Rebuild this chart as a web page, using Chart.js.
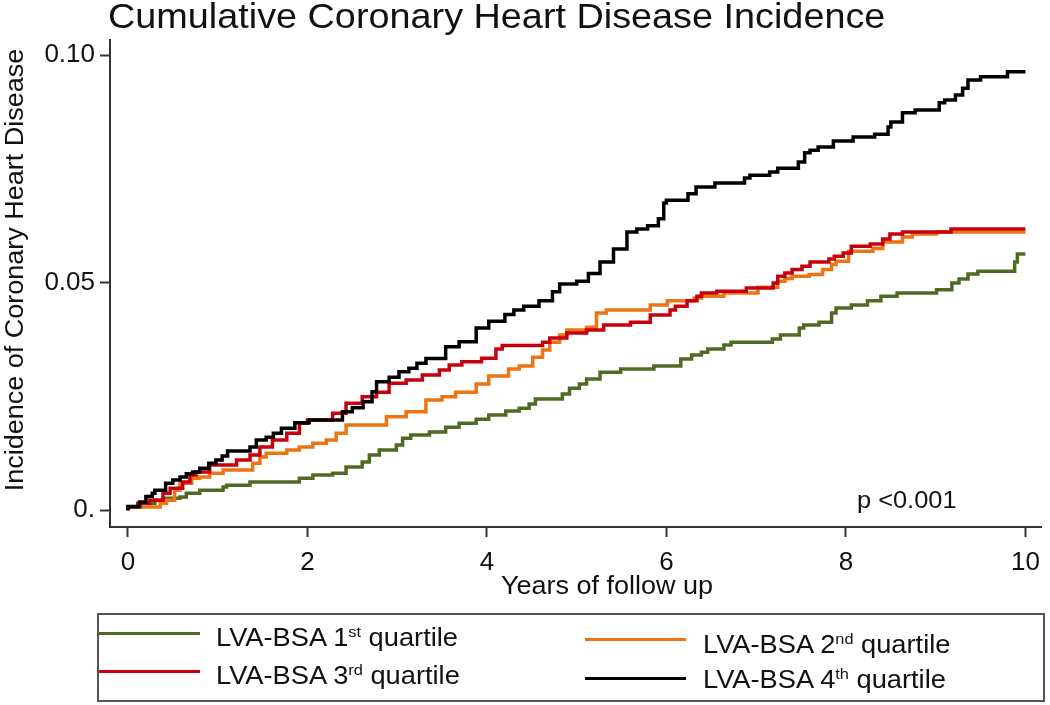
<!DOCTYPE html>
<html>
<head>
<meta charset="utf-8">
<script src="https://cdn.jsdelivr.net/npm/chart.js@4.4.0/dist/chart.umd.min.js"></script>
<style>
  body { margin: 0; background: #fff; }
  #wrap { position: relative; width: 1050px; height: 705px; font-family: 'Liberation Sans', Arial, sans-serif; color: #111; }
  #legend { position: absolute; left: 97px; top: 613px; width: 948px; height: 89px; box-sizing: border-box; border: 2px solid #555; }
  .key-line { position: absolute; width: 101px; height: 3px; }
  .key-text { position: absolute; font-size: 25px; white-space: nowrap; transform-origin: left center; transform: translateY(-50%) scaleX(1.09); }
  .key-text sup { font-size: 15px; vertical-align: 9px; line-height: 0; }
</style>
</head>
<body>
<div id="wrap">
  <canvas id="chart" width="1050" height="705"></canvas>
  <div id="legend"></div>
</div>
<script>
// ─── DATA ────────────────────────────────────────────────────
const xTicks = [0, 2, 4, 6, 8, 10];
const yTicks = [0, 0.05, 0.10];
const yTickLabels = ['0.', '0.05', '0.10'];

const seriesNames = ['LVA-BSA 1st quartile', 'LVA-BSA 2nd quartile', 'LVA-BSA 3rd quartile', 'LVA-BSA 4th quartile'];
const ordinals = ['1', '2', '3', '4'];
const ordinalSuffix = ['st', 'nd', 'rd', 'th'];
const colors = ['#4f6b23', '#ec7412', '#c8000b', '#000000'];

// 1st quartile (green)
const q1Years = [0, 0.15, 0.3, 0.42, 0.58, 0.65, 0.8, 1.06, 1.1, 1.36, 1.91, 2.06, 2.28, 2.43, 2.61, 2.69, 2.8, 2.99, 3.06, 3.15,
    3.36, 3.54, 3.69, 3.88, 4.02, 4.21, 4.36, 4.47, 4.54, 4.84, 4.92, 5.03, 5.11, 5.26, 5.49, 5.86, 6.16, 6.28, 6.39, 6.46,
    6.64, 6.72, 7.18, 7.27, 7.48, 7.53, 7.7, 7.84, 7.89, 8.06, 8.24, 8.39, 8.57, 9.01, 9.18, 9.26, 9.36, 9.47, 9.88, 9.91, 9.97, 10];
const q1Values = [0, 0.0007, 0.0015, 0.0022, 0.0026, 0.0029, 0.0037, 0.0044, 0.0051, 0.0055, 0.0062, 0.0070, 0.0077, 0.0081, 0.0095, 0.0106, 0.0121, 0.0132, 0.0143, 0.0158,
    0.0165, 0.0172, 0.0182, 0.0191, 0.0200, 0.0209, 0.0218, 0.0224, 0.0233, 0.0244, 0.0255, 0.0268, 0.0277, 0.0288, 0.0303, 0.0310, 0.0317, 0.0332, 0.0341, 0.0347,
    0.0354, 0.0363, 0.0369, 0.0376, 0.0385, 0.0400, 0.0407, 0.0413, 0.0433, 0.0444, 0.0451, 0.0460, 0.0470, 0.0477, 0.0484, 0.0499, 0.0508, 0.0519, 0.0525, 0.0545, 0.0563, 0.0563];

// 2nd quartile (orange)
const q2Years = [0, 0.36, 0.43, 0.52, 0.58, 0.71, 0.8, 0.91, 1.06, 1.39, 1.47, 1.54, 1.77, 1.91, 2.06, 2.21, 2.32, 2.43, 2.88, 3.1,
    3.32, 3.5, 3.65, 3.88, 4.02, 4.24, 4.36, 4.51, 4.62, 4.7, 4.81, 4.89, 5.11, 5.22, 5.33, 5.82, 6.01, 6.31, 6.39, 6.64,
    7.02, 7.24, 7.32, 7.4, 7.59, 7.74, 7.84, 7.89, 8.03, 8.3, 8.41, 8.63, 8.74, 9.01, 9.17, 10];
const q2Values = [0, 0.0007, 0.0015, 0.0022, 0.0044, 0.0059, 0.0070, 0.0073, 0.0081, 0.0088, 0.0103, 0.0117, 0.0125, 0.0132, 0.0139, 0.0147, 0.0154, 0.0169, 0.0187, 0.0205,
    0.0216, 0.0242, 0.0249, 0.0259, 0.0277, 0.0295, 0.0310, 0.0317, 0.0336, 0.0352, 0.0369, 0.0385, 0.0396, 0.0402, 0.0433, 0.0440, 0.0451, 0.0460, 0.0466, 0.0470,
    0.0477, 0.0490, 0.0503, 0.0509, 0.0514, 0.0518, 0.0529, 0.0540, 0.0547, 0.0569, 0.0575, 0.0589, 0.0600, 0.0607, 0.0611, 0.0611];

// 3rd quartile (red)
const q3Years = [0, 0.11, 0.24, 0.39, 0.47, 0.61, 0.69, 0.76, 0.91, 1.21, 1.36, 1.47, 1.61, 1.77, 1.91, 2.0, 2.28, 2.43, 2.61, 2.77,
    2.91, 3.1, 3.28, 3.47, 3.58, 3.72, 3.94, 4.1, 4.17, 4.62, 4.7, 4.89, 5.11, 5.3, 5.6, 5.82, 6.04, 6.1, 6.23, 6.34,
    6.39, 6.56, 6.89, 7.19, 7.24, 7.32, 7.4, 7.51, 7.6, 7.81, 7.87, 7.97, 8.06, 8.27, 8.41, 8.49, 8.63, 9.17, 9.28, 10];
const q3Values = [0, 0.0007, 0.0015, 0.0022, 0.0037, 0.0048, 0.0062, 0.0077, 0.0084, 0.0099, 0.0110, 0.0121, 0.0139, 0.0154, 0.0169, 0.0191, 0.0198, 0.0213, 0.0235, 0.0249,
    0.0259, 0.0279, 0.0286, 0.0297, 0.0308, 0.0319, 0.0326, 0.0334, 0.0354, 0.0362, 0.0369, 0.0378, 0.0389, 0.0396, 0.0407, 0.0413, 0.0429, 0.0440, 0.0448, 0.0460,
    0.0470, 0.0477, 0.0481, 0.0488, 0.0499, 0.0514, 0.0521, 0.0529, 0.0536, 0.0545, 0.0552, 0.0558, 0.0565, 0.0580, 0.0585, 0.0596, 0.0607, 0.0611, 0.0618, 0.0618];

// 4th quartile (black)
const q4Years = [0, 0.13, 0.2, 0.27, 0.3, 0.42, 0.5, 0.58, 0.65, 0.72, 0.8, 0.9, 0.98, 1.05, 1.11, 1.36, 1.43, 1.54, 1.62, 1.71,
    1.86, 2.02, 2.39, 2.5, 2.62, 2.72, 2.77, 2.91, 3.02, 3.13, 3.22, 3.32, 3.54, 3.69, 3.88, 4.02, 4.2, 4.3, 4.41, 4.58,
    4.73, 4.81, 5.0, 5.13, 5.26, 5.41, 5.56, 5.67, 5.79, 5.91, 5.97, 6.0, 6.24, 6.33, 6.54, 6.87, 6.93, 7.15, 7.24, 7.47,
    7.54, 7.6, 7.69, 7.86, 8.08, 8.32, 8.47, 8.5, 8.63, 8.77, 9.04, 9.1, 9.22, 9.3, 9.36, 9.5, 9.8, 9.91, 10];
const q4Values = [0, 0.0008, 0.0018, 0.0030, 0.0037, 0.0044, 0.0059, 0.0066, 0.0073, 0.0080, 0.0084, 0.0092, 0.0103, 0.0110, 0.0119, 0.0130, 0.0139, 0.0154, 0.0160, 0.0169,
    0.0180, 0.0192, 0.0198, 0.0216, 0.0225, 0.0238, 0.0260, 0.0282, 0.0292, 0.0304, 0.0312, 0.0323, 0.0333, 0.0359, 0.0370, 0.0400, 0.0415, 0.0430, 0.0440, 0.0448,
    0.0460, 0.0480, 0.0497, 0.0503, 0.0520, 0.0545, 0.0574, 0.0611, 0.0618, 0.0625, 0.0640, 0.0675, 0.0681, 0.0695, 0.0710, 0.0719, 0.0730, 0.0736, 0.0743, 0.0751,
    0.0765, 0.0785, 0.0791, 0.0798, 0.0811, 0.0820, 0.0826, 0.0842, 0.0853, 0.0873, 0.0879, 0.0895, 0.0901, 0.0912, 0.0927, 0.0945, 0.0952, 0.0963, 0.0963];

const allYears = [q1Years, q2Years, q3Years, q4Years];
const allValues = [q1Values, q2Values, q3Values, q4Values];

const FONT = "'Liberation Sans', Arial, sans-serif";
const STRETCH = 1.08;   // the original's text is a little wider than Liberation Sans


// ─── TEXT PLUGIN ─────────────────────────────────────────────
// Title, axis titles and p-value sit at fixed spots like the Stata original
function stretchedText(ctx, text, x, y, size, align, baseline, angle) {
    ctx.save();
    ctx.translate(x, y);
    if (angle) ctx.rotate(angle);
    ctx.scale(STRETCH, 1);
    ctx.font = size + 'px ' + FONT;
    ctx.textAlign = align;
    ctx.textBaseline = baseline;
    ctx.fillText(text, 0, 0);
    ctx.restore();
}

const textPlugin = {
    id: 'stataText',
    afterDraw(chart) {
        const ctx = chart.ctx;
        ctx.save();
        ctx.fillStyle = '#111';
        stretchedText(ctx, 'Cumulative Coronary Heart Disease Incidence', 108, 28, 35, 'left', 'alphabetic');
        stretchedText(ctx, 'Years of follow up', 607, 587, 25, 'center', 'middle');
        stretchedText(ctx, 'p <0.001', 857, 508, 23.5, 'left', 'alphabetic');
        stretchedText(ctx, 'Incidence of Coronary Heart Disease', 16, 270, 25, 'center', 'middle', -Math.PI / 2);
        ctx.restore();
    }
};


// ─── CHART ───────────────────────────────────────────────────
const datasets = allYears.map((years, i) => ({
    label: seriesNames[i],
    data: years.map((t, j) => ({ x: t, y: allValues[i][j] })),
    borderColor: colors[i],
    borderWidth: 3.5,
    pointRadius: 0,
    fill: false,
    stepped: 'after',
    order: 3 - i   // 4th quartile drawn on top
}));

new Chart(document.getElementById('chart'), {
    type: 'line',
    data: { datasets },
    options: {
        responsive: false,
        animation: false,
        layout: { padding: { top: 40, right: 6, left: 0, bottom: 0 } },
        plugins: {
            legend: { display: false },
            tooltip: { enabled: false }
        },
        scales: {
            x: {
                type: 'linear',
                min: -0.2,
                max: 10.178,
                afterBuildTicks: scale => { scale.ticks = xTicks.map(v => ({ value: v })); },
                afterFit: scale => { scale.height = 178; },
                ticks: { color: '#111', font: { family: FONT, size: 26 }, maxRotation: 0, padding: 10 },
                grid: { drawOnChartArea: false, drawTicks: true, tickLength: 10, tickColor: '#333', tickWidth: 2 },
                border: { display: true, color: '#333', width: 2 }
            },
            y: {
                min: -0.0037,
                max: 0.1033,
                afterBuildTicks: scale => { scale.ticks = yTicks.map(v => ({ value: v })); },
                afterFit: scale => { scale.width = 110; },
                ticks: {
                    color: '#111',
                    font: { family: FONT, size: 26 },
                    padding: 5,
                    callback: (v, i) => yTickLabels[i]
                },
                grid: { drawOnChartArea: false, drawTicks: true, tickLength: 10, tickColor: '#333', tickWidth: 2 },
                border: { display: true, color: '#333', width: 2 }
            }
        }
    },
    plugins: [textPlugin]
});


// ─── LEGEND (HTML, for the superscripts) ─────────────────────
const legendPos = [
    { lineX: 0, lineY: 17, textX: 117, textY: 22 },
    { lineX: 486, lineY: 23, textX: 604, textY: 28.5 },
    { lineX: 0, lineY: 55, textX: 117, textY: 60 },
    { lineX: 486, lineY: 62, textX: 604, textY: 63.5 }
];
const legend = document.getElementById('legend');
legendPos.forEach((p, i) => {
    const line = document.createElement('div');
    line.className = 'key-line';
    line.style.left = p.lineX + 'px';
    line.style.top = p.lineY + 'px';
    line.style.background = colors[i];
    legend.appendChild(line);

    const text = document.createElement('div');
    text.className = 'key-text';
    text.style.left = p.textX + 'px';
    text.style.top = p.textY + 'px';
    text.innerHTML = 'LVA-BSA ' + ordinals[i] + '<sup>' + ordinalSuffix[i] + '</sup> quartile';
    legend.appendChild(text);
});
</script>
</body>
</html>
